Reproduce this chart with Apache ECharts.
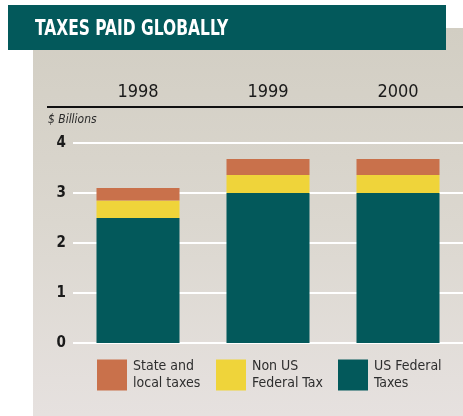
<!DOCTYPE html>
<html>
<head>
<meta charset="utf-8">
<style>
  html, body { margin: 0; padding: 0; background: #ffffff; }
  #chart { width: 463px; height: 416px; }
</style>
<script src="https://cdn.jsdelivr.net/npm/echarts@6/dist/echarts.min.js"></script>
</head>
<body>
<div id="chart"></div>
<script>
// Taxes paid, $ billions, by year
const years = ['1998', '1999', '2000'];
const usFederal = [2.5, 3.0, 3.0];
const nonUsFederal = [0.35, 0.36, 0.36];
const stateLocal = [0.25, 0.32, 0.32];
const yTicks = [0, 1, 2, 3, 4];

const TEAL = '#03595b';
const YELLOW = '#efd43a';
const ORANGE = '#c9714b';
const FONT = '"DejaVu Sans Condensed", "Liberation Sans Narrow", sans-serif';

const chart = echarts.init(document.getElementById('chart'));

function legendAt(left, name) {
  return {
    left: left, top: 357,
    data: [name],
    icon: 'rect',
    itemWidth: 30, itemHeight: 31,
    itemGap: 0,
    padding: 0,
    selectedMode: false,
    textStyle: {
      fontFamily: FONT, fontSize: 14, color: '#2e2e2e',
      lineHeight: 17, padding: [2, 0, 0, 1]
    }
  };
}

chart.setOption({
  animation: false,
  backgroundColor: '#ffffff',
  graphic: [
    {
      type: 'rect', z: -10, silent: true,
      shape: { x: 33, y: 28, width: 430, height: 388 },
      style: {
        fill: {
          type: 'linear', x: 0, y: 0, x2: 0, y2: 1,
          colorStops: [
            { offset: 0, color: '#d2cec3' },
            { offset: 0.5, color: '#dbd7cf' },
            { offset: 1, color: '#e6e1df' }
          ]
        }
      }
    },
    {
      type: 'rect', z: -5, silent: true,
      shape: { x: 8, y: 5, width: 438, height: 45 },
      style: { fill: TEAL }
    },
    {
      // heading, drawn narrower than the stock face
      type: 'text', z: 10, silent: true,
      x: 35, y: 30, scaleX: 0.82,
      style: {
        text: 'TAXES PAID GLOBALLY',
        font: 'bold 21px ' + FONT,
        fill: '#ffffff',
        verticalAlign: 'middle'
      }
    },
    {
      type: 'line', z: 10, silent: true,
      shape: { x1: 47, y1: 107, x2: 463, y2: 107 },
      style: { stroke: '#111111', lineWidth: 2 }
    },
    {
      type: 'text', z: 10, silent: true,
      x: 48, y: 120, scaleX: 0.92,
      style: {
        text: '$ Billions',
        font: 'italic 13px ' + FONT,
        fill: '#2a2a2a',
        verticalAlign: 'middle'
      }
    }
  ],
  legend: [
    legendAt(97, 'State and\nlocal taxes'),
    legendAt(216, 'Non US\nFederal Tax'),
    legendAt(338, 'US Federal\nTaxes')
  ],
  grid: { left: 73, right: 0, top: 143, bottom: 73 },
  xAxis: {
    type: 'category',
    position: 'top',
    offset: 36,
    data: years,
    axisLine: { show: false },
    axisTick: { show: false },
    axisLabel: {
      margin: 6,
      fontFamily: FONT, fontSize: 18, color: '#1a1a1a'
    }
  },
  yAxis: {
    type: 'value',
    min: yTicks[0], max: yTicks[yTicks.length - 1], interval: 1,
    axisLine: { show: false },
    axisTick: { show: false },
    axisLabel: {
      margin: 7,
      fontFamily: FONT, fontSize: 15, fontWeight: 'bold', color: '#1a1a1a'
    },
    splitLine: { lineStyle: { color: '#ffffff', width: 2 } }
  },
  series: [
    {
      name: 'US Federal\nTaxes', type: 'bar', stack: 'tax',
      data: usFederal, barWidth: 83,
      itemStyle: { color: TEAL }
    },
    {
      name: 'Non US\nFederal Tax', type: 'bar', stack: 'tax',
      data: nonUsFederal, barWidth: 83,
      itemStyle: { color: YELLOW }
    },
    {
      name: 'State and\nlocal taxes', type: 'bar', stack: 'tax',
      data: stateLocal, barWidth: 83,
      itemStyle: { color: ORANGE }
    }
  ]
});
</script>
</body>
</html>
